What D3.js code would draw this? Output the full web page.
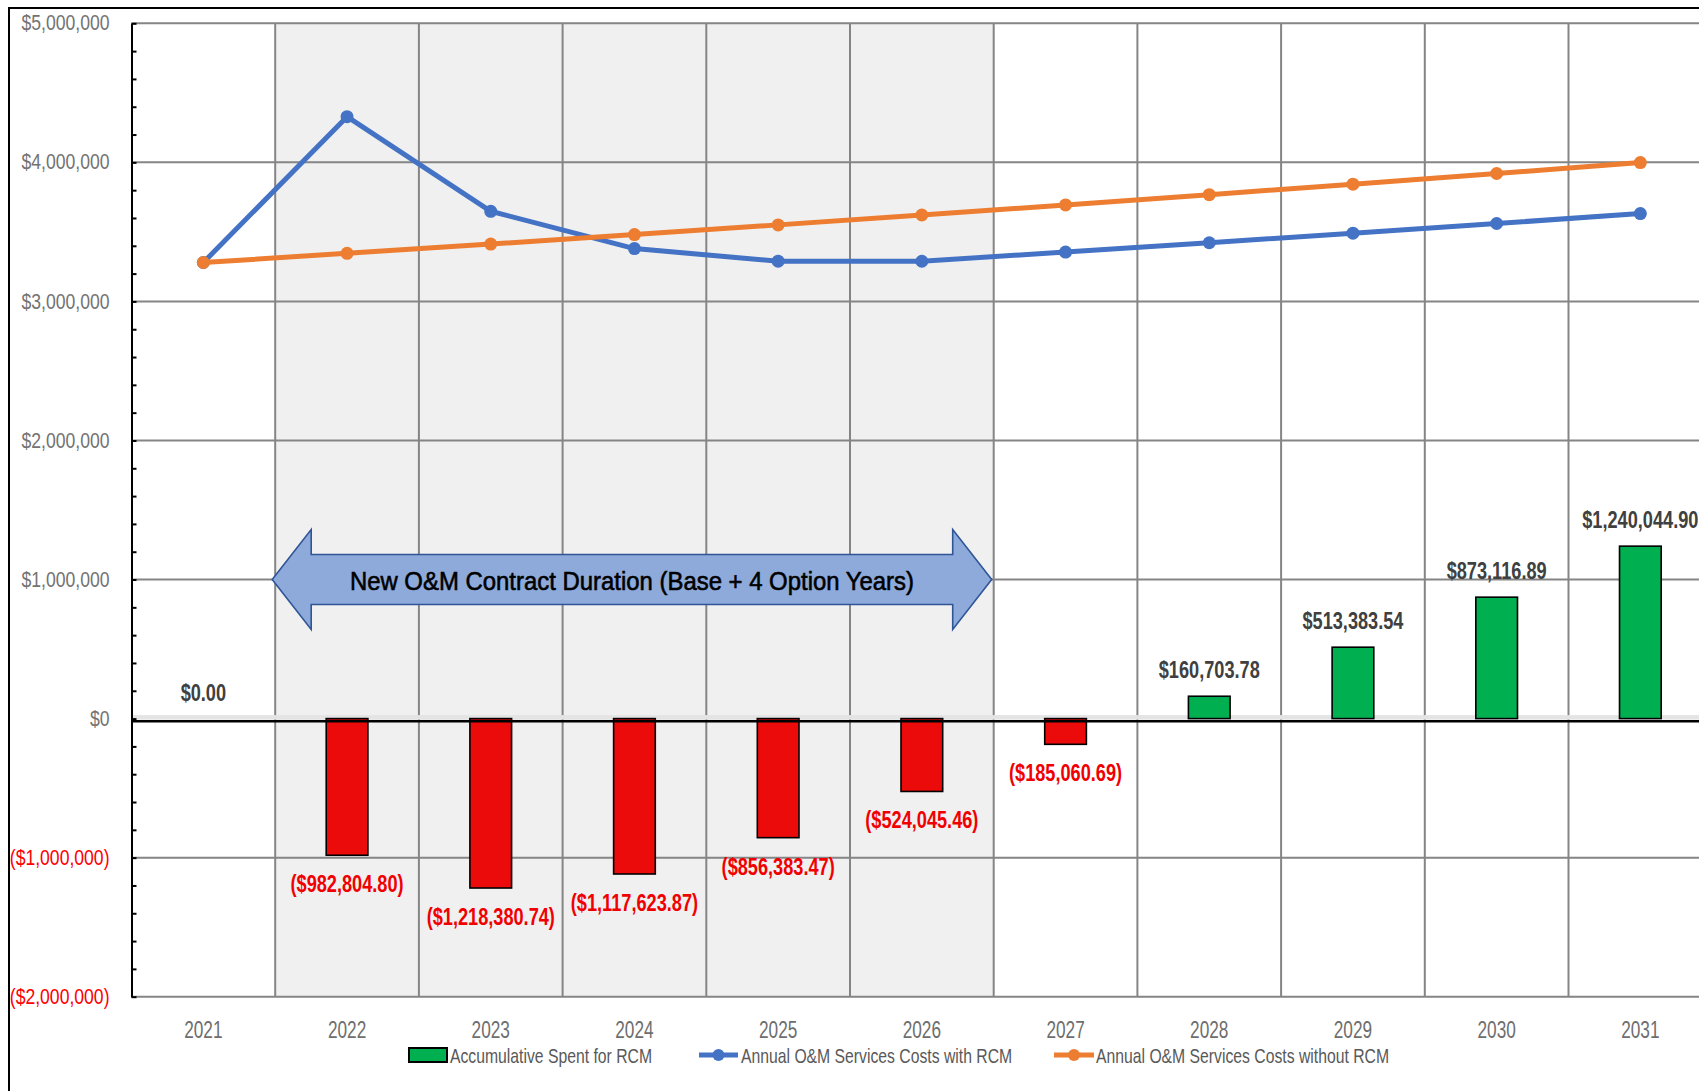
<!DOCTYPE html>
<html>
<head>
<meta charset="utf-8">
<script src="https://cdn.jsdelivr.net/npm/d3@7"></script>
<style>
  html, body { margin: 0; padding: 0; background: #ffffff; }
  svg { display: block; }
  text { font-family: "Liberation Sans", Arial, sans-serif; }
</style>
</head>
<body>
<svg id="chart" width="1699" height="1091"></svg>
<script>
// ---- data ----
const years = ["2021", "2022", "2023", "2024", "2025", "2026", "2027", "2028", "2029", "2030", "2031"];
const accumulativeSpent = [0, -982804.80, -1218380.74, -1117623.87, -856383.47, -524045.46, -185060.69,
  160703.78, 513383.54, 873116.89, 1240044.90];
const costsWithRCM = [3280000, 4328400, 3648100, 3380000, 3289100, 3289000, 3354800, 3421900, 3490400, 3560200, 3631400];
const costsWithoutRCM = [3280000, 3345600, 3412500, 3480800, 3550400, 3621400, 3693800, 3767700, 3843000, 3919900, 3998300];
const yTickValues = [-2000000, -1000000, 0, 1000000, 2000000, 3000000, 4000000, 5000000];
const contractSpan = ["2022", "2026"];
const contractLabel = "New O&M Contract Duration (Base + 4 Option Years)";
const legendItems = ["Accumulative Spent for RCM", "Annual O&M Services Costs with RCM", "Annual O&M Services Costs without RCM"];

// ---- layout ----
const W = 1699, H = 1091;
const plot = { left: 131.5, top: 23.3, bottom: 996.7, right: 1712.2 };
const BLUE = "#4472c4", ORANGE = "#ed7d31", GREEN = "#00b050", RED = "#ec0b0b";
const GRID = "#858585";
const SQUEEZE = 0.75;      // horizontal condensing of the typeface
const SQUEEZE_BOLD = 0.79;

const svg = d3.select("#chart");

const x = d3.scaleBand().domain(years).range([plot.left, plot.right]).paddingInner(0).paddingOuter(0);
const y = d3.scaleLinear().domain([-2000000, 5000000]).range([plot.bottom, plot.top]);
const cx = d => x(d) + x.bandwidth() / 2;

const money = d3.format("$,.2f");
const moneyTick = d3.format("$,.0f");
const fmtBar = v => v < 0 ? "(" + money(-v) + ")" : money(v);
const fmtTick = v => v < 0 ? "(" + moneyTick(-v) + ")" : moneyTick(v);

// outer chart frame
svg.append("path")
  .attr("d", `M9,${H} V8 H${W}`)
  .attr("fill", "none").attr("stroke", "#000").attr("stroke-width", 2);

// shaded contract period
svg.append("rect")
  .attr("x", x(contractSpan[0]))
  .attr("y", plot.top)
  .attr("width", x(contractSpan[1]) + x.bandwidth() - x(contractSpan[0]))
  .attr("height", plot.bottom - plot.top)
  .attr("fill", "#f0f0f0");

// horizontal gridlines
svg.append("g").selectAll("line")
  .data(yTickValues.filter(v => v !== 0))
  .join("line")
  .attr("x1", plot.left).attr("x2", plot.right)
  .attr("y1", d => y(d)).attr("y2", d => y(d))
  .attr("stroke", GRID).attr("stroke-width", 2);

// vertical gridlines at category boundaries
svg.append("g").selectAll("line")
  .data(years.slice(1))
  .join("line")
  .attr("x1", d => x(d)).attr("x2", d => x(d))
  .attr("y1", plot.top).attr("y2", plot.bottom)
  .attr("stroke", GRID).attr("stroke-width", 2);

// light band along the zero line
svg.append("rect")
  .attr("x", plot.left).attr("y", y(0) - 3.5)
  .attr("width", plot.right - plot.left).attr("height", 4.5)
  .attr("fill", "#e4e4e4");

// accumulative bars
const barW = x.bandwidth() * 0.29;
svg.append("g").selectAll("rect")
  .data(years.map((yr, i) => ({ yr, v: accumulativeSpent[i] })).filter(d => d.v !== 0))
  .join("rect")
  .attr("x", d => cx(d.yr) - barW / 2)
  .attr("y", d => Math.min(y(d.v), y(0)))
  .attr("width", barW)
  .attr("height", d => Math.abs(y(d.v) - y(0)))
  .attr("fill", d => d.v < 0 ? RED : GREEN)
  .attr("stroke", "#000").attr("stroke-width", 1.6);

// heavy zero line
svg.append("line")
  .attr("x1", plot.left).attr("x2", plot.right)
  .attr("y1", y(0) + 2.6).attr("y2", y(0) + 2.6)
  .attr("stroke", "#000").attr("stroke-width", 2.6);

// left axis: line + minor/major ticks pointing inward
const minorTicks = d3.range(-10, 26).map(i => i * 200000);
svg.append("g")
  .attr("transform", `translate(${plot.left},0)`)
  .call(d3.axisRight(y).tickValues(minorTicks).tickSize(5).tickSizeOuter(0).tickFormat(""))
  .call(g => g.select(".domain").attr("stroke", "#000").attr("stroke-width", 2))
  .call(g => g.selectAll(".tick line").attr("stroke", "#000").attr("stroke-width", 2));

// left axis labels
svg.append("g")
  .attr("transform", `translate(${plot.left},0)`)
  .call(d3.axisLeft(y).tickValues(yTickValues).tickSize(0).tickFormat(fmtTick))
  .call(g => g.select(".domain").remove())
  .call(g => g.selectAll(".tick text")
    .attr("x", -27.5).attr("dy", "0.3em")
    .attr("transform", "scale(0.8,1)")
    .attr("font-size", 22)
    .attr("font-family", "'Liberation Sans', Arial, sans-serif")
    .attr("fill", d => d < 0 ? "#ff0000" : "#737373"));

// category labels
svg.append("g")
  .attr("transform", `translate(0,${plot.bottom})`)
  .call(d3.axisBottom(x).tickSize(0))
  .call(g => g.select(".domain").remove())
  .call(g => g.selectAll(".tick text")
    .attr("y", 41).attr("dy", 0)
    .attr("transform", `scale(${SQUEEZE},1)`)
    .attr("font-size", 23)
    .attr("font-family", "'Liberation Sans', Arial, sans-serif")
    .attr("fill", "#6e6e6e"));

// cost lines
const line = d3.line().x((d, i) => cx(years[i])).y(d => y(d));
[[costsWithRCM, BLUE], [costsWithoutRCM, ORANGE]].forEach(([vals, col]) => {
  svg.append("path")
    .datum(vals)
    .attr("d", line)
    .attr("fill", "none").attr("stroke", col)
    .attr("stroke-width", 5).attr("stroke-linejoin", "round").attr("stroke-linecap", "round");
  svg.append("g").selectAll("circle")
    .data(vals)
    .join("circle")
    .attr("cx", (d, i) => cx(years[i]))
    .attr("cy", d => y(d))
    .attr("r", 6.5)
    .attr("fill", col);
});

// bar value labels
svg.append("g").selectAll("text")
  .data(years.map((yr, i) => ({ yr, v: accumulativeSpent[i] })))
  .join("text")
  .attr("transform", d => `translate(${cx(d.yr)},${d.v < 0 ? y(d.v) + 37 : y(d.v) - 18}) scale(${SQUEEZE_BOLD},1)`)
  .attr("text-anchor", "middle")
  .attr("font-size", 23)
  .attr("font-weight", "bold")
  .attr("fill", d => d.v < 0 ? "#f00000" : "#404040")
  .text(d => fmtBar(d.v));

// contract duration arrow
const aL = x(contractSpan[0]) - 3;
const aR = x(contractSpan[1]) + x.bandwidth() - 2;
const aY = y(1000000);
const headLen = 39, headHalf = 50, shaftHalf = 25;
const arrowPts = [
  [aL, aY], [aL + headLen, aY - headHalf], [aL + headLen, aY - shaftHalf],
  [aR - headLen, aY - shaftHalf], [aR - headLen, aY - headHalf], [aR, aY],
  [aR - headLen, aY + headHalf], [aR - headLen, aY + shaftHalf],
  [aL + headLen, aY + shaftHalf], [aL + headLen, aY + headHalf]
];
svg.append("path")
  .attr("d", d3.line()(arrowPts) + "Z")
  .attr("fill", "#8eaadb").attr("stroke", "#2f5597").attr("stroke-width", 1.6);
svg.append("text")
  .attr("transform", `translate(${(aL + aR) / 2},${aY + 10}) scale(0.92,1)`)
  .attr("text-anchor", "middle")
  .attr("font-size", 26)
  .attr("fill", "#000")
  .attr("stroke", "#000").attr("stroke-width", 0.6)
  .text(contractLabel);

// legend
const lg = svg.append("g");
const legY = 1055;
lg.append("rect").attr("x", 409).attr("y", legY - 7).attr("width", 38).attr("height", 14)
  .attr("fill", GREEN).attr("stroke", "#000").attr("stroke-width", 2);
[[699, 738, BLUE], [1054, 1094, ORANGE]].forEach(([a, b, col]) => {
  lg.append("line").attr("x1", a).attr("x2", b).attr("y1", legY).attr("y2", legY)
    .attr("stroke", col).attr("stroke-width", 5);
  lg.append("circle").attr("cx", (a + b) / 2).attr("cy", legY).attr("r", 6).attr("fill", col);
});
[450, 741, 1096].forEach((lx, i) => {
  lg.append("text")
    .attr("transform", `translate(${lx},${legY + 8}) scale(${SQUEEZE},1)`)
    .attr("font-size", 21)
    .attr("fill", "#595959")
    .text(legendItems[i]);
});
</script>
</body>
</html>
